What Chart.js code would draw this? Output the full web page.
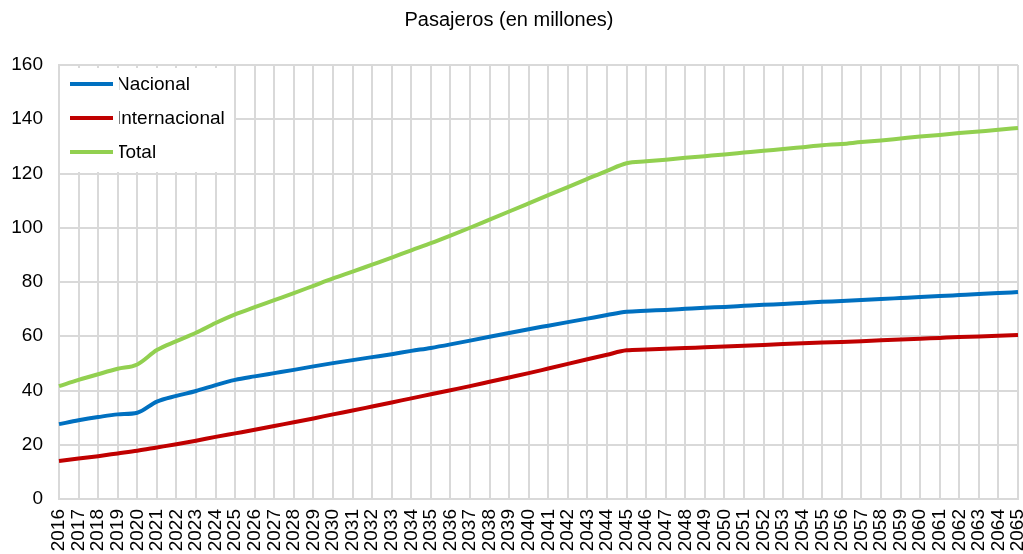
<!DOCTYPE html>
<html>
<head>
<meta charset="utf-8">
<script src="https://cdn.jsdelivr.net/npm/chart.js@4/dist/chart.umd.min.js"></script>
<style>
  html, body { margin: 0; padding: 0; background: #ffffff; }
  #wrap { width: 1023px; height: 554px; }
</style>
</head>
<body>
<div id="wrap"><canvas id="c" width="1023" height="554"></canvas></div>
<script>
// Años de la proyección
const years = [];
for (let y = 2016; y <= 2065; y++) years.push(String(y));

// Pasajeros nacionales (millones)
const nacional = [
  27.6, 29.0, 30.2, 31.2, 31.8, 35.9, 38.0, 39.8, 42.0, 43.9,
  45.2, 46.4, 47.6, 48.9, 50.1, 51.2, 52.3, 53.4, 54.6, 55.7,
  57.0, 58.4, 59.8, 61.2, 62.6, 63.9, 65.2, 66.5, 67.8, 69.0,
  69.4, 69.7, 70.1, 70.5, 70.8, 71.2, 71.6, 71.9, 72.3, 72.7,
  73.0, 73.4, 73.7, 74.1, 74.5, 74.8, 75.2, 75.6, 75.9, 76.3
];

// Pasajeros internacionales (millones)
const internacional = [
  14.0, 14.9, 15.8, 16.8, 17.8, 19.0, 20.2, 21.5, 22.9, 24.2,
  25.5, 26.9, 28.3, 29.7, 31.2, 32.6, 34.1, 35.6, 37.1, 38.6,
  40.1, 41.6, 43.2, 44.8, 46.4, 48.1, 49.8, 51.5, 53.2, 54.8,
  55.1, 55.4, 55.7, 55.9, 56.2, 56.5, 56.8, 57.1, 57.4, 57.7,
  57.9, 58.2, 58.5, 58.8, 59.1, 59.4, 59.7, 59.9, 60.2, 60.5
];

// Total de pasajeros (millones)
const total = [
  41.6, 43.9, 46.0, 48.0, 49.6, 54.9, 58.2, 61.3, 64.9, 68.1,
  70.7, 73.3, 75.9, 78.6, 81.3, 83.8, 86.4, 89.0, 91.7, 94.3,
  97.1, 100.0, 103.0, 106.0, 109.0, 112.0, 115.0, 118.0, 121.0, 123.8,
  124.5, 125.1, 125.8, 126.4, 127.0, 127.7, 128.4, 129.0, 129.7, 130.4,
  130.9, 131.6, 132.2, 132.9, 133.6, 134.2, 134.9, 135.5, 136.1, 136.8
];

const yTicks = [0, 20, 40, 60, 80, 100, 120, 140, 160];
const seriesNames = ['Nacional', 'Internacional', 'Total'];
const seriesColors = ['#0070c0', '#c00000', '#92d050'];

const FONT = 'Liberation Sans, Arial, sans-serif';
const GRID = '#d9d9d9';

// Leyenda dentro del área del gráfico, arriba a la izquierda, sobre fondo blanco
const insideLegend = {
  id: 'insideLegend',
  afterDatasetsDraw(chart) {
    const ctx = chart.ctx;
    const area = chart.chartArea;
    ctx.save();
    ctx.fillStyle = '#ffffff';
    ctx.fillRect(area.left + 1, area.top + 3, 174, 104);
    chart.data.datasets.forEach((ds, i) => {
      const y = area.top + 19 + i * 34;
      const x0 = area.left + 11;
      ctx.fillStyle = '#000';
      ctx.font = '19px ' + FONT;
      ctx.textBaseline = 'middle';
      ctx.textAlign = 'left';
      ctx.fillText(ds.label, x0 + 46, y + 1);
      ctx.fillStyle = '#ffffff';
      ctx.fillRect(x0 + 43, y - 12, 6, 24);
      ctx.strokeStyle = ds.borderColor;
      ctx.lineWidth = 4;
      ctx.beginPath();
      ctx.moveTo(x0, y);
      ctx.lineTo(x0 + 43, y);
      ctx.stroke();
    });
    ctx.restore();
  }
};

const datasets = [nacional, internacional, total].map((vals, i) => ({
  label: seriesNames[i],
  data: vals,
  borderColor: seriesColors[i],
  backgroundColor: seriesColors[i],
  borderWidth: 4,
  pointRadius: 0,
  pointHoverRadius: 0,
  cubicInterpolationMode: 'monotone',
  fill: false
}));

new Chart(document.getElementById('c'), {
  type: 'line',
  data: { labels: years, datasets },
  plugins: [insideLegend],
  options: {
    responsive: false,
    animation: false,
    devicePixelRatio: 1,
    layout: { padding: { top: 0, right: 5, left: 0, bottom: 0 } },
    plugins: {
      legend: { display: false },
      tooltip: { enabled: false },
      title: {
        display: true,
        text: 'Pasajeros (en millones)',
        color: '#000',
        font: { family: FONT, size: 20, weight: 'normal' },
        padding: { top: 8, bottom: 33 }
      }
    },
    scales: {
      x: {
        offset: false,
        grid: { color: GRID, lineWidth: 2, drawTicks: false },
        border: { color: GRID, width: 2 },
        ticks: {
          color: '#000',
          font: { family: FONT, size: 19 },
          minRotation: 90,
          maxRotation: 90,
          autoSkip: false,
          padding: 10
        },
        afterFit(scale) {
          scale.height = 55;
          scale.paddingLeft = 0;
          scale.paddingRight = 0;
        }
      },
      y: {
        min: 0,
        max: 160,
        afterBuildTicks(scale) { scale.ticks = yTicks.map(v => ({ value: v })); },
        grid: { color: GRID, lineWidth: 2, drawTicks: false },
        border: { color: GRID, width: 2 },
        ticks: {
          color: '#000',
          font: { family: FONT, size: 19 },
          padding: 16
        },
        afterFit(scale) { scale.width = 59; }
      }
    }
  }
});
</script>
</body>
</html>
